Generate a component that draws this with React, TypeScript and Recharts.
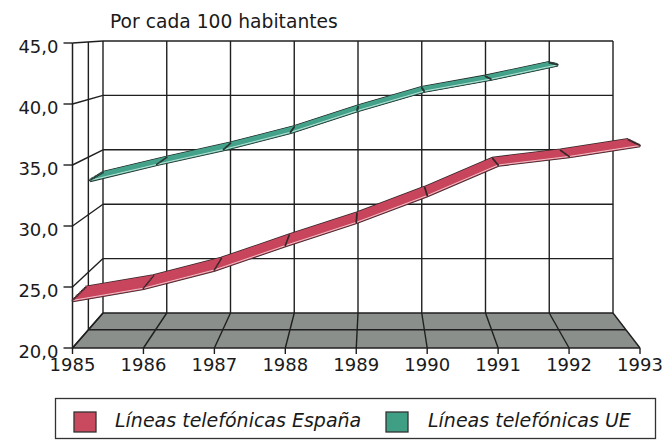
import { LineChart, Line, XAxis, YAxis, CartesianGrid } from "recharts";

const years = [1985, 1986, 1987, 1988, 1989, 1990, 1991, 1992, 1993];
const espana = [23.9, 24.9, 26.4, 28.4, 30.3, 32.5, 35.0, 35.7, 36.6];
const ue = [32.9, 34.3, 35.6, 37.1, 39.0, 40.7, 41.75, 43.0];
const yTicks = [20, 25, 30, 35, 40, 45];
const seriesNames = ["Líneas telefónicas España", "Líneas telefónicas UE"];
const title = "Por cada 100 habitantes";

const data = years.map((year, i) => ({
  year,
  espana: espana[i] ?? null,
  ue: ue[i] ?? null,
}));

const W = 666;
const H = 441;
const FONT = "'DejaVu Sans', sans-serif";
const INK = "#1a1a1a";
const GRID = "#1f1f1f";
const GW = 1.4;

// front and back planes of the pseudo-3D box
const FRONT = { left: 72.5, right: 640, top: 43, bottom: 348 };
const BACK = { left: 103, right: 613, top: 41, bottom: 313 };

const lerp = (a: number, b: number, t: number) => a + (b - a) * t;
const plane = (t: number) => ({
  left: lerp(FRONT.left, BACK.left, t),
  right: lerp(FRONT.right, BACK.right, t),
  top: lerp(FRONT.top, BACK.top, t),
  bottom: lerp(FRONT.bottom, BACK.bottom, t),
});
// only used for the box decoration (floor + side wall)
const px = (p: ReturnType<typeof plane>, year: number) =>
  p.left + ((year - 1985) / 8) * (p.right - p.left);
const py = (p: ReturnType<typeof plane>, v: number) =>
  p.bottom - ((v - 20) / 25) * (p.bottom - p.top);

const ribbons = [
  { key: "espana", from: 0, to: 0.43, fill: "#c8465d", edge: "#35272a", light: "#f4d0d5", legend: "#c94a5e" },
  { key: "ue", from: 0.57, to: 1, fill: "#45a28b", edge: "#283632", light: "#c6ebe0", legend: "#3f9f85" },
];
const SLICES = 10;

function PlaneChart({ t, children }: { t: number; children?: any }) {
  const p = plane(t);
  return (
    <div style={{ position: "absolute", left: 0, top: 0 }}>
      <LineChart
        width={W}
        height={H}
        data={data}
        margin={{ top: p.top, left: p.left, right: W - p.right, bottom: H - p.bottom }}
      >
        <XAxis dataKey="year" type="number" domain={[1985, 1993]} ticks={years} hide />
        <YAxis type="number" domain={[20, 45]} ticks={yTicks} hide />
        {children}
      </LineChart>
    </div>
  );
}

function Frame() {
  const f = plane(0);
  const b = plane(1);
  const m = plane(0.52);
  return (
    <svg width={W} height={H} style={{ position: "absolute", left: 0, top: 0 }}>
      <polygon
        points={`${f.left},${f.bottom} ${f.right},${f.bottom} ${b.right},${b.bottom} ${b.left},${b.bottom}`}
        fill="#8b8f8c"
      />
      {years.map((y) => (
        <line key={y} x1={px(f, y)} y1={f.bottom} x2={px(b, y)} y2={b.bottom} stroke={GRID} strokeWidth={GW} />
      ))}
      <line x1={m.left} y1={m.bottom} x2={m.right} y2={m.bottom} stroke={GRID} strokeWidth={GW} />
      {yTicks.map((v) => (
        <line key={v} x1={f.left} y1={py(f, v)} x2={b.left} y2={py(b, v)} stroke={GRID} strokeWidth={GW} />
      ))}
      <line x1={m.left} y1={m.top} x2={m.left} y2={m.bottom} stroke={GRID} strokeWidth={GW} />
      <text x={110} y={28} fontFamily={FONT} fontSize={18.7} fill={INK}>
        {title}
      </text>
    </svg>
  );
}

function Legend() {
  return (
    <svg width={W} height={H} style={{ position: "absolute", left: 0, top: 0 }}>
      <rect x={55.5} y={398.5} width={600} height={40} fill="#fff" stroke="#333" strokeWidth={1.3} />
      {seriesNames.map((name, i) => {
        const sx = i === 0 ? 74 : 386;
        const tx = i === 0 ? 115 : 428;
        return (
          <g key={name}>
            <rect x={sx} y={412} width={22} height={20} fill={ribbons[i].legend} stroke="#333" strokeWidth={1.3} />
            <text x={tx} y={427} fontFamily={FONT} fontSize={19} fontStyle="italic" fill={INK}>
              {name}
            </text>
          </g>
        );
      })}
    </svg>
  );
}

function XTick({ x, y, payload }: any) {
  return (
    <text x={x} y={y} dy={15} textAnchor="middle" fontFamily={FONT} fontSize={18} fill={INK}>
      {payload.value}
    </text>
  );
}

function YTick({ x, y, payload }: any) {
  return (
    <text x={x} y={y} dy={9.5} textAnchor="end" fontFamily={FONT} fontSize={18} fill={INK}>
      {payload.value.toFixed(1).replace(".", ",")}
    </text>
  );
}

function FrontAxes() {
  return (
    <div style={{ position: "absolute", left: 0, top: 0 }}>
      <LineChart
        width={W}
        height={H}
        data={data}
        margin={{ top: FRONT.top, left: FRONT.left - 60, right: W - FRONT.right, bottom: H - FRONT.bottom - 40 }}
      >
        <XAxis
          dataKey="year"
          type="number"
          domain={[1985, 1993]}
          ticks={years}
          interval={0}
          height={40}
          tickSize={6}
          axisLine={{ stroke: GRID, strokeWidth: 1.5 }}
          tickLine={{ stroke: GRID, strokeWidth: GW }}
          tick={XTick}
        />
        <YAxis
          type="number"
          domain={[20, 45]}
          ticks={yTicks}
          interval={0}
          width={60}
          tickSize={9}
          tickMargin={5}
          axisLine={{ stroke: GRID, strokeWidth: 1.5 }}
          tickLine={{ stroke: GRID, strokeWidth: GW }}
          tick={YTick}
        />
        <Line dataKey="espana" stroke="none" dot={false} activeDot={false} isAnimationActive={false} />
      </LineChart>
    </div>
  );
}

function slices(pass: "edge" | "fill" | "joint") {
  const out: any[] = [];
  ribbons.forEach((r) => {
    for (let k = 0; k < SLICES; k++) {
      const t = r.from + ((r.to - r.from) * k) / (SLICES - 1);
      out.push(
        <PlaneChart key={`${pass}-${r.key}-${k}`} t={t}>
          {pass === "edge" && (
            <Line type="linear" dataKey={r.key} stroke={r.edge} strokeWidth={3.6} dot={false} activeDot={false} isAnimationActive={false} />
          )}
          {pass === "fill" && (
            <Line type="linear" dataKey={r.key} stroke={r.fill} strokeWidth={2} dot={false} activeDot={false} isAnimationActive={false} />
          )}
          {pass === "joint" && k === 0 && (
            <Line type="linear" dataKey={r.key} stroke={r.light} strokeWidth={0.9} dot={false} activeDot={false} isAnimationActive={false} />
          )}
          {pass === "joint" && (
            <Line
              type="linear"
              dataKey={r.key}
              stroke="none"
              dot={{ r: 0.9, fill: r.edge, stroke: "none" }}
              activeDot={false}
              isAnimationActive={false}
            />
          )}
        </PlaneChart>
      );
    }
  });
  return out;
}

export default function App() {
  return (
    <div style={{ position: "fixed", left: 0, top: 0, width: W, height: H, background: "#fff", overflow: "hidden" }}>
      <Frame />
      <PlaneChart t={1}>
        <CartesianGrid stroke={GRID} strokeWidth={GW} />
        <Line dataKey="ue" stroke="none" dot={false} activeDot={false} isAnimationActive={false} />
      </PlaneChart>
      <FrontAxes />
      {slices("edge")}
      {slices("fill")}
      {slices("joint")}
      <Legend />
    </div>
  );
}
